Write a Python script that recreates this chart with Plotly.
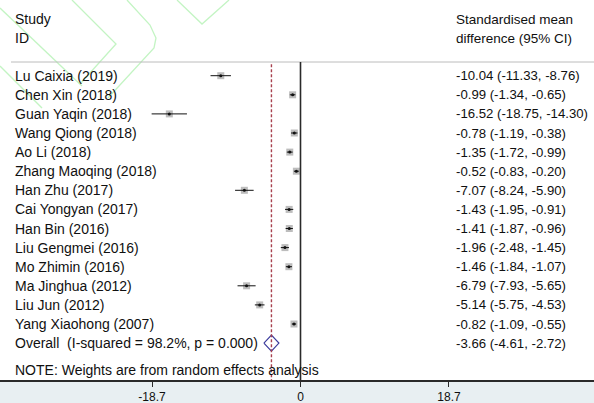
import plotly.graph_objects as go

# Study-level results (standardised mean difference, 95% CI)
studies = [
    "Lu Caixia (2019)", "Chen Xin (2018)", "Guan Yaqin (2018)", "Wang Qiong (2018)",
    "Ao Li (2018)", "Zhang Maoqing (2018)", "Han Zhu (2017)", "Cai Yongyan (2017)",
    "Han Bin (2016)", "Liu Gengmei (2016)", "Mo Zhimin (2016)", "Ma Jinghua (2012)",
    "Liu Jun (2012)", "Yang Xiaohong (2007)",
]
smd = [-10.04, -0.99, -16.52, -0.78, -1.35, -0.52, -7.07, -1.43, -1.41, -1.96, -1.46, -6.79, -5.14, -0.82]
ci_low = [-11.33, -1.34, -18.75, -1.19, -1.72, -0.83, -8.24, -1.95, -1.87, -2.48, -1.84, -7.93, -5.75, -1.09]
ci_high = [-8.76, -0.65, -14.30, -0.38, -0.99, -0.20, -5.90, -0.91, -0.96, -1.45, -1.07, -5.65, -4.53, -0.55]

# Pooled random-effects estimate
overall_label = "Overall\u00a0 (I-squared = 98.2%, p = 0.000)"
overall_est = -3.66
overall_low = -4.61
overall_high = -2.72

tick_vals = [-18.7, 0, 18.7]
tick_text = ["-18.7", "0", "18.7"]

FONT = "Liberation Sans, Arial, sans-serif"
TXT = "#101010"
FS_LABEL = 14
FS_VALUE = 13.2
FS_HEAD = 13.5

W, H = 594, 403
PLOT_H = 380           # plot area height (axis line sits at its bottom)
X0_PX, PX_PER_UNIT = 300.5, 7.94
ROW0_PX, ROW_PX = 75.7, 19.1

x_range = [(0 - X0_PX) / PX_PER_UNIT, (W - X0_PX) / PX_PER_UNIT]
y_range = [(PLOT_H - ROW0_PX) / ROW_PX, (0 - ROW0_PX) / ROW_PX]

rows = list(range(len(studies)))
overall_row = len(studies)
header_row = (62 - ROW0_PX) / ROW_PX
note_row = (370 - ROW0_PX) / ROW_PX
axis_row = y_range[0]

fig = go.Figure()

# weight boxes
fig.add_trace(go.Scatter(
    x=smd, y=rows, mode="markers",
    marker=dict(symbol="square", size=7, color="#bdbdbd", line=dict(width=0)),
    hoverinfo="skip", showlegend=False,
))
# confidence intervals and point estimates
fig.add_trace(go.Scatter(
    x=smd, y=rows, mode="markers",
    marker=dict(symbol="circle", size=3, color="#111111"),
    error_x=dict(type="data", symmetric=False,
                 array=[h - e for h, e in zip(ci_high, smd)],
                 arrayminus=[e - l for e, l in zip(smd, ci_low)],
                 thickness=1, width=0, color="#111111"),
    hoverinfo="skip", showlegend=False,
))
# pooled diamond
fig.add_trace(go.Scatter(
    x=[overall_low, overall_est, overall_high, overall_est, overall_low],
    y=[overall_row, overall_row - 0.42, overall_row, overall_row + 0.42, overall_row],
    mode="lines", line=dict(color="#3b3b9c", width=1.2),
    hoverinfo="skip", showlegend=False,
))

shapes = []
# header rule
shapes.append(dict(type="line", xref="paper", yref="y", x0=11 / W, x1=1,
                   y0=header_row, y1=header_row, line=dict(color="#bcbcbc", width=1)))
# line of no effect
shapes.append(dict(type="line", xref="x", yref="y", x0=0, x1=0,
                   y0=header_row, y1=axis_row, line=dict(color="#2a2a2a", width=1.6)))
# pooled estimate reference line
shapes.append(dict(type="line", xref="x", yref="y", x0=overall_est, x1=overall_est,
                   y0=header_row + 0.12, y1=axis_row,
                   line=dict(color="#a8404e", width=1.4, dash="3px,2px")))

# faint green background decoration
def px_path(points):
    d = ""
    for i, (px, py) in enumerate(points):
        d += ("M" if i == 0 else "L") + f"{px / W:.4f},{1 - py / PLOT_H:.4f}"
    return d

deco = [
    [(0, 8), (82, 86)],
    [(72, 0), (116, 44), (80, 84)],
    [(127, 0), (150, 25), (156, 38), (154, 48), (108, 98)],
    [(177, 0), (202, 24), (229, 0)],
    [(0, 66), (42, 108)],
]
for pts in deco:
    shapes.append(dict(type="path", xref="paper", yref="paper", path=px_path(pts),
                       line=dict(color="rgba(170,240,170,0.7)", width=1.3), layer="below"))

annotations = []
def txt(x_px, row, s, size):
    annotations.append(dict(x=x_px / W, xref="paper", y=row, yref="y", text=s,
                            showarrow=False, xanchor="left", yanchor="middle",
                            align="left", borderpad=0,
                            font=dict(family=FONT, size=size, color=TXT)))

txt(14, (19 - ROW0_PX) / ROW_PX, "Study", FS_LABEL)
txt(14, (38 - ROW0_PX) / ROW_PX, "ID", FS_LABEL)
txt(455, (19 - ROW0_PX) / ROW_PX, "Standardised mean", FS_HEAD)
txt(455, (38 - ROW0_PX) / ROW_PX, "difference (95% CI)", FS_HEAD)

for r, name, e, l, h in zip(rows, studies, smd, ci_low, ci_high):
    txt(14, r, name, FS_LABEL)
    txt(455, r, f"{e:.2f} ({l:.2f}, {h:.2f})", FS_VALUE)

txt(14, overall_row, overall_label, FS_LABEL)
txt(455, overall_row, f"{overall_est:.2f} ({overall_low:.2f}, {overall_high:.2f})", FS_VALUE)
txt(14, note_row, "NOTE: Weights are from random effects analysis", FS_LABEL)

fig.update_layout(
    width=W, height=H,
    margin=dict(l=0, r=0, t=0, b=H - PLOT_H, pad=0),
    paper_bgcolor="#e8eff2", plot_bgcolor="white",
    shapes=shapes, annotations=annotations,
    xaxis=dict(range=x_range, showgrid=False, zeroline=False, showline=True,
               linecolor="#2a2a2a", linewidth=1.5,
               tickmode="array", tickvals=tick_vals, ticktext=tick_text,
               ticks="outside", ticklen=5, tickwidth=1.3, tickcolor="#2a2a2a",
               tickfont=dict(family=FONT, size=12, color=TXT), fixedrange=True),
    yaxis=dict(range=y_range, visible=False, showgrid=False, zeroline=False, fixedrange=True),
    showlegend=False,
)

fig.write_html("out.html")
